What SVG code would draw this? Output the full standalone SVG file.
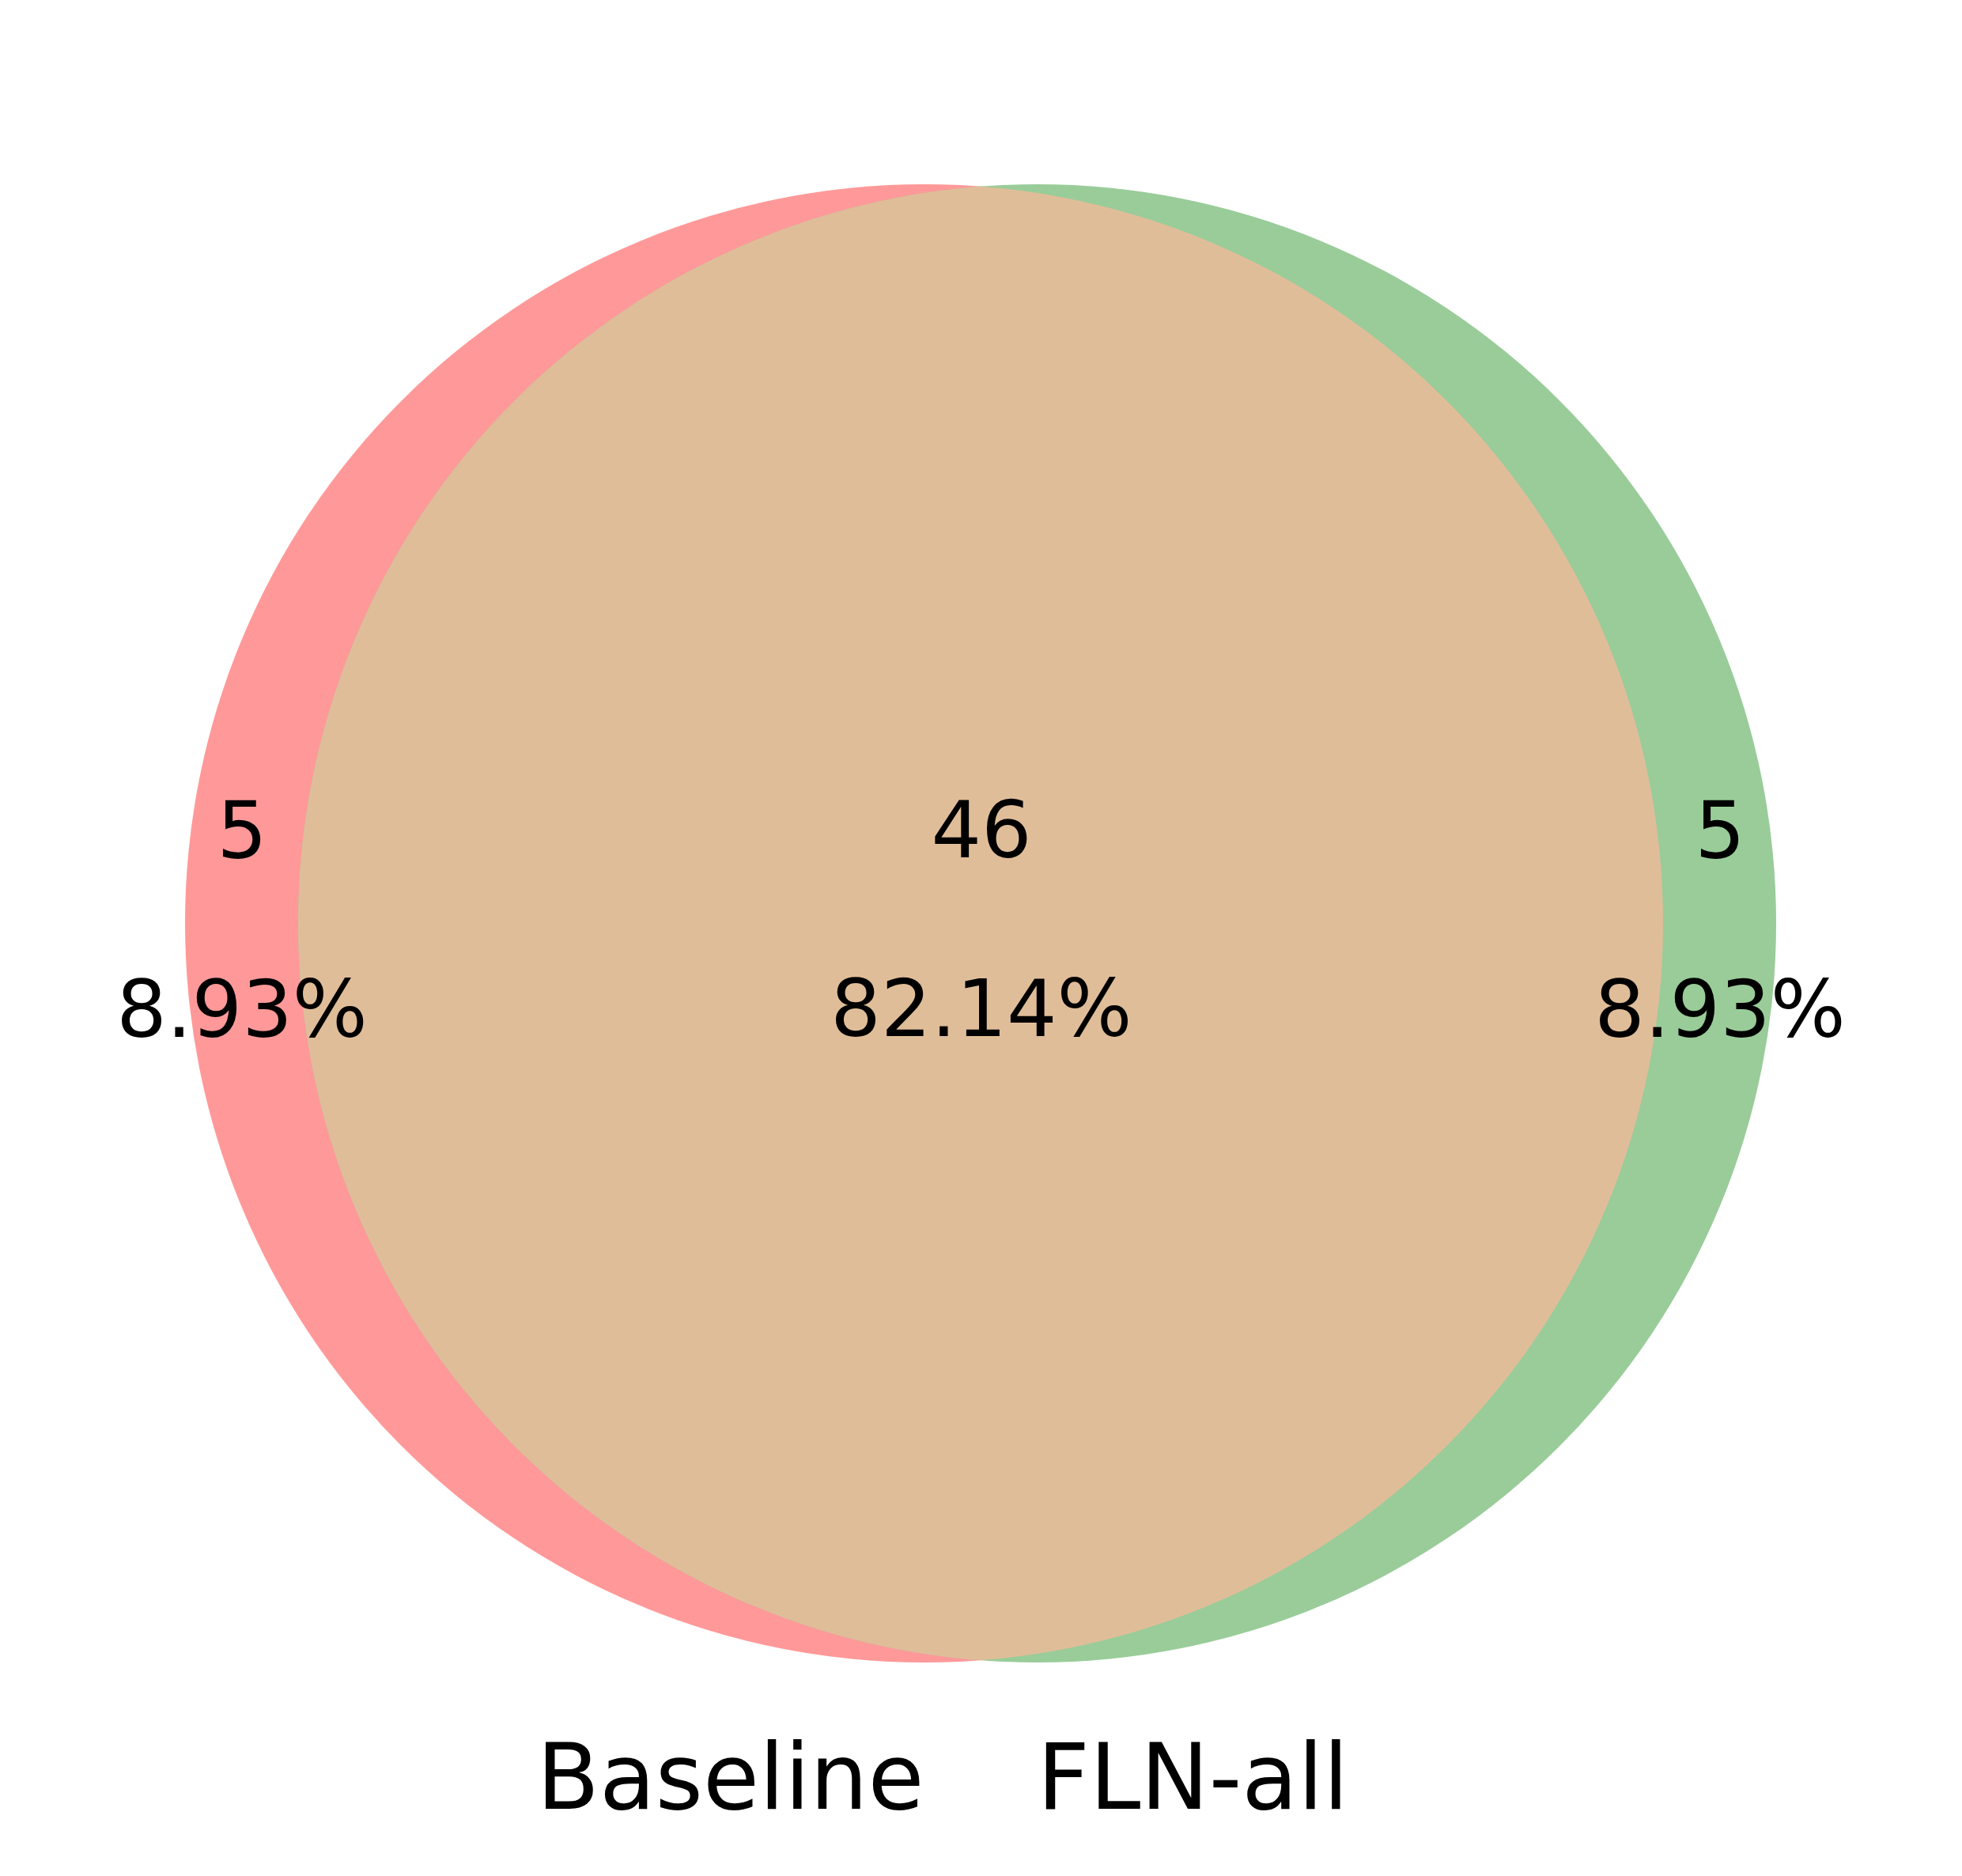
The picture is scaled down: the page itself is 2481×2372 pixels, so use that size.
<svg xmlns="http://www.w3.org/2000/svg" width="2481" height="2372" viewBox="0 0 2481 2372">
  <style>
    .num { font-family: "DejaVu Sans", sans-serif; font-size: 100px; fill: #000; text-anchor: middle; }
    .set { font-family: "DejaVu Sans", sans-serif; font-size: 115.5px; fill: #000; }
  </style>
  <defs>
    <clipPath id="clipB">
      <circle cx="1311.5" cy="1167.5" r="934.5"/>
    </clipPath>
  </defs>
  <rect x="0" y="0" width="2481" height="2372" fill="#ffffff"/>
  <g id="set-baseline">
    <circle cx="1168.5" cy="1167.5" r="934.5" fill="#ff9999"/>
  </g>
  <g id="set-fln-all">
    <circle cx="1311.5" cy="1167.5" r="934.5" fill="#99cc99"/>
  </g>
  <g id="intersection">
    <circle cx="1168.5" cy="1167.5" r="934.5" fill="#e0bd99" clip-path="url(#clipB)"/>
  </g>
  <g id="label-baseline-only">
    <text class="num" x="306" y="1085">5</text>
    <text class="num" x="306" y="1311">8.93%</text>
  </g>
  <g id="label-both">
    <text class="num" x="1241" y="1084">46</text>
    <text class="num" x="1241" y="1310">82.14%</text>
  </g>
  <g id="label-fln-only">
    <text class="num" x="2175" y="1085">5</text>
    <text class="num" x="2175" y="1311">8.93%</text>
  </g>
  <g id="set-labels">
    <text class="set" x="1168.5" y="2287" text-anchor="end">Baseline</text>
    <text class="set" x="1311.5" y="2287" text-anchor="start">FLN-all</text>
  </g>
</svg>
